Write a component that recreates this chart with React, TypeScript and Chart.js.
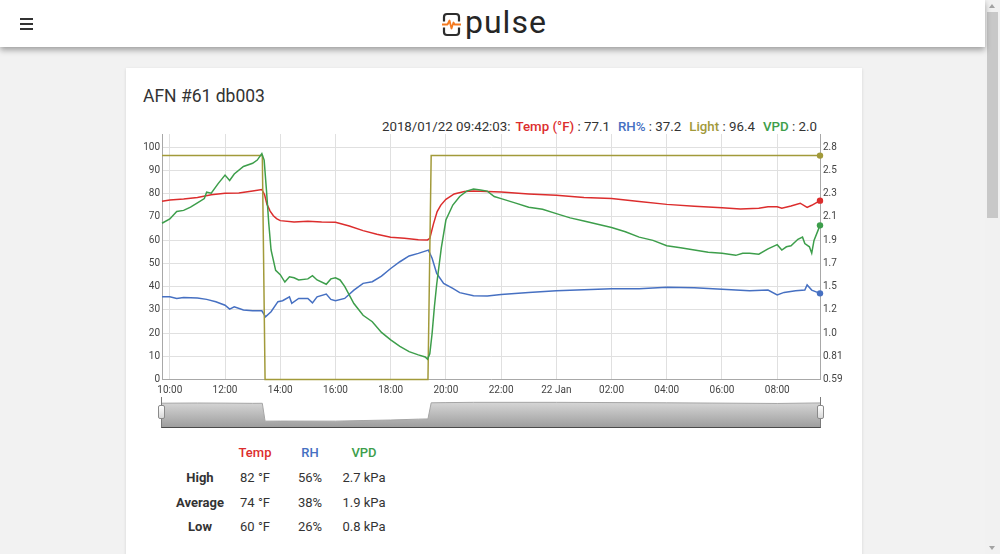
import React, { useEffect, useRef } from "react";
import { Chart, registerables } from "chart.js";

Chart.register(...registerables);

// ---------- data ----------
const tempTimes = ["09:43","10:00","10:30","11:00","11:30","12:00","12:30","13:00","13:20","13:26","13:31","13:38","13:45","13:52","14:00","14:30","15:00","15:30","16:00","16:30","17:00","17:30","18:00","18:30","19:00","19:20","19:25","19:33","19:41","19:49","20:00","20:18","20:40","21:00","21:30","22:00","23:00","00:00","01:00","02:00","03:00","04:00","05:00","06:00","06:40","07:20","07:40","08:00","08:10","08:30","08:50","09:05","09:15","09:33"];
const tempValues = [76.7,77.3,77.7,78.4,79.5,80.2,80.3,81.2,81.8,79.5,75.5,72.5,70.5,69.3,68.4,67.8,68.1,67.8,67.7,66.1,64.1,62.5,61.2,60.8,60.2,60.1,60.8,67.0,72.3,75.1,77.6,79.9,80.9,81.2,80.9,80.7,79.9,79.3,78.4,77.9,76.6,75.4,74.6,73.9,73.4,73.7,74.4,74.4,73.7,74.7,75.9,74.1,75.0,77.0];

const rhTimes = ["09:43","10:00","10:15","10:30","11:00","11:20","11:40","12:00","12:10","12:20","12:40","13:00","13:20","13:28","13:40","13:55","14:05","14:20","14:25","14:40","15:00","15:10","15:20","15:40","15:50","16:00","16:20","16:40","17:00","17:20","17:40","18:00","18:20","18:40","19:00","19:22","19:30","19:40","19:55","20:15","20:30","21:00","21:30","22:00","23:00","00:00","01:00","02:00","03:00","04:00","05:00","06:00","07:00","07:40","08:00","08:15","08:40","09:00","09:05","09:15","09:33"];
const rhValues = [35.6,35.6,34.9,35.3,35.1,34.5,33.5,32.0,30.3,31.3,29.9,29.6,29.6,27.0,29.2,33.5,33.9,35.6,32.8,34.9,34.9,33.0,35.6,36.8,34.5,33.9,34.9,38.5,41.4,42.1,44.5,47.8,50.7,53.2,54.3,55.7,52.2,45.7,41.4,39.2,37.4,36.1,35.9,36.6,37.5,38.2,38.6,39.1,39.1,39.7,39.5,38.9,38.2,38.5,36.4,37.5,38.2,38.5,40.7,38.5,37.1];

const lightTimes = ["09:43","13:21","13:27","19:21","19:28","09:33"];
const lightValues = [96.4,96.4,0,0,96.4,96.4];

const vpdTimes = ["09:43","10:00","10:15","10:30","10:45","11:00","11:15","11:20","11:30","11:45","12:00","12:10","12:20","12:40","13:00","13:10","13:20","13:25","13:30","13:35","13:40","13:50","14:00","14:10","14:20","14:30","14:40","15:00","15:10","15:20","15:40","15:50","16:00","16:10","16:20","16:40","17:00","17:20","17:40","18:00","18:20","18:40","19:00","19:15","19:20","19:25","19:30","19:35","19:40","19:50","20:00","20:15","20:30","20:45","21:00","21:15","21:30","21:45","22:00","22:30","23:00","23:30","00:00","00:30","01:00","01:30","02:00","02:30","03:00","03:30","04:00","04:30","05:00","05:30","06:00","06:30","06:45","07:00","07:20","07:40","08:00","08:10","08:20","08:30","08:45","08:55","09:00","09:10","09:15","09:20","09:33"];
const vpdValues = [2.05,2.09,2.16,2.17,2.20,2.24,2.28,2.34,2.33,2.42,2.50,2.45,2.51,2.58,2.61,2.64,2.70,2.64,2.36,2.05,1.80,1.61,1.57,1.50,1.55,1.54,1.52,1.53,1.56,1.52,1.48,1.53,1.54,1.52,1.46,1.30,1.19,1.13,1.03,0.96,0.90,0.85,0.82,0.80,0.78,0.83,1.02,1.27,1.48,1.82,2.08,2.22,2.30,2.35,2.37,2.36,2.35,2.30,2.28,2.24,2.20,2.18,2.14,2.10,2.07,2.04,2.01,1.97,1.92,1.89,1.84,1.82,1.80,1.78,1.77,1.75,1.77,1.77,1.76,1.81,1.85,1.80,1.83,1.84,1.90,1.92,1.86,1.83,1.77,1.89,2.03];

// range-selector mini plot (combined series as drawn in the navigator)
const navTimes = ["09:43","11:00","12:00","13:00","13:21","13:27","14:00","16:00","17:00","18:00","19:00","19:21","19:28","20:00","21:00","00:00","04:00","08:00","09:33"];
const navValues = [52.7,53.0,52.8,52.5,52.6,25.8,25.9,25.8,26.7,27.5,28.8,29.1,53.3,53.6,54.0,54.0,53.3,52.3,53.1];

const xTickHours = [10,12,14,16,18,20,22,24,26,28,30,32];
const xTickLabels = ["10:00","12:00","14:00","16:00","18:00","20:00","22:00","22 Jan","02:00","04:00","06:00","08:00"];
const leftTicks = [0,10,20,30,40,50,60,70,80,90,100];
const rightTickLabels = ["0.59","0.81","1.0","1.2","1.5","1.7","1.9","2.1","2.3","2.5","2.8"];

const statsColumns = ["Temp","RH","VPD"];
const statsRows = ["High","Average","Low"];
const statsValues = [
  ["82 °F","56%","2.7 kPa"],
  ["74 °F","38%","1.9 kPa"],
  ["60 °F","26%","0.8 kPa"],
];

const legendStamp = "2018/01/22 09:42:03:";
const legendNames = ["Temp (°F)","RH%","Light","VPD"];
const legendValues = ["77.1","37.2","96.4","2.0"];

// ---------- axis config ----------
const X_MIN = 9 + 43 / 60;
const X_MAX = 33 + 33 / 60;
const LEFT_MAX = 105.7;
const RIGHT_MIN = 0.59;
const RIGHT_STEP = 0.217;
const RIGHT_MAX = RIGHT_MIN + (RIGHT_STEP * LEFT_MAX) / 10;

const FONT = "Roboto, 'Open Sans', sans-serif";
const C_TEMP = "#dc2d2d";
const C_RH = "#4670c2";
const C_LIGHT = "#a29a3a";
const C_VPD = "#3d9e4b";
const seriesColors = [C_TEMP, C_RH, C_LIGHT, C_VPD];

function toHours(times: string[]): number[] {
  const out: number[] = [];
  let offset = 0;
  let prev = -Infinity;
  for (const t of times) {
    const [h, m] = t.split(":").map(Number);
    let v = h + m / 60 + offset;
    if (v < prev) {
      offset += 24;
      v += 24;
    }
    out.push(v);
    prev = v;
  }
  return out;
}

function pts(times: string[], values: number[]) {
  const hs = toHours(times);
  return hs.map((x, i) => ({ x, y: values[i] }));
}

function lineDataset(label: string, times: string[], values: number[], color: string, axis: string, order: number) {
  const n = values.length;
  return {
    label,
    data: pts(times, values),
    borderColor: color,
    backgroundColor: color,
    borderWidth: 1.5,
    tension: 0,
    yAxisID: axis,
    order,
    clip: 5,
    pointRadius: (c: any) => (c.dataIndex === n - 1 ? 3.2 : 0),
    pointBorderWidth: 0,
    pointBackgroundColor: color,
  };
}

function MainChart() {
  const ref = useRef<HTMLCanvasElement>(null);
  useEffect(() => {
    const chart = new Chart(ref.current as HTMLCanvasElement, {
      type: "line",
      data: {
        datasets: [
          lineDataset("Temp", tempTimes, tempValues, C_TEMP, "y", 4),
          lineDataset("RH", rhTimes, rhValues, C_RH, "y", 3),
          lineDataset("Light", lightTimes, lightValues, C_LIGHT, "y", 2),
          lineDataset("VPD", vpdTimes, vpdValues, C_VPD, "y2", 1),
        ] as any,
      },
      options: {
        animation: false,
        responsive: false,
        devicePixelRatio: 1,
        layout: { padding: { top: 4, left: 0, right: 0, bottom: 0 } },
        plugins: { legend: { display: false }, tooltip: { enabled: false } },
        scales: {
          x: {
            type: "linear",
            min: X_MIN,
            max: X_MAX,
            afterBuildTicks: (s: any) => {
              s.ticks = xTickHours.map((v) => ({ value: v }));
            },
            afterFit: (s: any) => {
              s.height = 20.5;
              s.paddingLeft = 0;
              s.paddingRight = 0;
            },
            ticks: {
              callback: (_v: any, i: number) => xTickLabels[i],
              font: { size: 10, family: FONT },
              color: "#444",
              padding: 4.5,
              maxRotation: 0,
              autoSkip: false,
            },
            grid: { color: "#e0e0e0", drawTicks: false },
            border: { color: "#a8a8a8" },
          },
          y: {
            position: "left",
            min: 0,
            max: LEFT_MAX,
            afterBuildTicks: (s: any) => {
              s.ticks = leftTicks.map((v) => ({ value: v }));
            },
            afterFit: (s: any) => {
              s.width = 32;
              s.paddingTop = 0;
              s.paddingBottom = 0;
            },
            ticks: {
              callback: (v: any) => String(v),
              font: { size: 10, family: FONT },
              color: "#444",
              padding: 2,
            },
            grid: { color: "#e0e0e0", drawTicks: false },
            border: { color: "#a8a8a8" },
          },
          y2: {
            position: "right",
            min: RIGHT_MIN,
            max: RIGHT_MAX,
            afterBuildTicks: (s: any) => {
              s.ticks = rightTickLabels.map((_l, i) => ({ value: RIGHT_MIN + i * RIGHT_STEP }));
            },
            afterFit: (s: any) => {
              s.width = 40;
              s.paddingTop = 0;
              s.paddingBottom = 0;
            },
            ticks: {
              callback: (_v: any, i: number) => rightTickLabels[i],
              font: { size: 10, family: FONT },
              color: "#444",
              padding: 3,
            },
            grid: { drawOnChartArea: false, drawTicks: false },
            border: { color: "#a8a8a8" },
          },
        },
      } as any,
    });
    return () => chart.destroy();
  }, []);
  return (
    <canvas
      ref={ref}
      width={730}
      height={270}
      style={{ position: "absolute", left: 130, top: 130, width: 730, height: 270 }}
    />
  );
}

function Navigator() {
  const ref = useRef<HTMLCanvasElement>(null);
  useEffect(() => {
    const chart = new Chart(ref.current as HTMLCanvasElement, {
      type: "line",
      data: {
        datasets: [
          {
            data: pts(navTimes, navValues),
            borderColor: "#a5a5a5",
            borderWidth: 1,
            pointRadius: 0,
            tension: 0,
            fill: "start",
            backgroundColor: (c: any) => {
              const area = c.chart.chartArea;
              if (!area) return "#c0c0c0";
              const g = c.chart.ctx.createLinearGradient(0, area.top, 0, area.bottom);
              g.addColorStop(0, "#e4e4e4");
              g.addColorStop(1, "#9c9c9c");
              return g;
            },
          },
        ] as any,
      },
      options: {
        animation: false,
        responsive: false,
        devicePixelRatio: 1,
        layout: { padding: 0 },
        plugins: { legend: { display: false }, tooltip: { enabled: false } },
        scales: {
          x: { type: "linear", min: X_MIN, max: X_MAX, display: false },
          y: { min: 15.5, max: 63.5, display: false },
        },
      } as any,
    });
    return () => chart.destroy();
  }, []);
  return (
    <canvas
      ref={ref}
      width={658}
      height={32}
      style={{ position: "absolute", left: 162, top: 396, width: 658, height: 32 }}
    />
  );
}

function Handle({ left }: { left: number }) {
  return (
    <div
      style={{
        position: "absolute",
        left,
        top: 405,
        width: 7,
        height: 14,
        boxSizing: "border-box",
        border: "1px solid #8a8a8a",
        borderRadius: 2,
        background: "linear-gradient(#ffffff, #d8d8d8)",
      }}
    />
  );
}

export default function App() {
  const abs = (x: number, y: number, extra: any = {}) => ({ position: "absolute" as const, left: x, top: y, ...extra });
  const colCenters = [255, 310, 364];
  const rowCenters = [478, 503, 527];
  const headerColors = [C_TEMP, C_RH, C_VPD];
  return (
    <div
      style={{
        position: "absolute",
        left: 0,
        top: 0,
        width: 1000,
        height: 554,
        overflow: "hidden",
        background: "#f2f2f2",
        fontFamily: FONT,
        color: "#333",
      }}
    >
      {/* card */}
      <div
        style={abs(126, 68, {
          width: 736,
          height: 560,
          background: "#fff",
          boxShadow: "0 1px 3px rgba(0,0,0,0.12)",
        })}
      />

      {/* header */}
      <div
        style={abs(0, 0, {
          width: 985,
          height: 47,
          background: "#fff",
          boxShadow: "0 3px 6px rgba(0,0,0,0.35)",
          zIndex: 2,
        })}
      >
        {[18, 23, 28].map((y) => (
          <div key={y} style={abs(20, y, { width: 13, height: 2, background: "#333" })} />
        ))}
        <svg style={abs(442, 12)} width={19} height={25} viewBox="0 0 19 25">
          <path d="M2 9.5 V5 a3 3 0 0 1 3 -3 H14 a3 3 0 0 1 3 3 V9.5" stroke="#2d2d2d" strokeWidth={2.2} fill="none" />
          <path d="M2 15.5 V20 a3 3 0 0 0 3 3 H14 a3 3 0 0 0 3 -3 V15.5" stroke="#2d2d2d" strokeWidth={2.2} fill="none" />
          <path d="M0 12.5 H5.5 L7.5 8.5 L9.5 16.5 L11.5 10.5 L12.5 12.5 H19" stroke="#f47a20" strokeWidth={1.8} fill="none" strokeLinejoin="round" />
        </svg>
        <div
          style={abs(465, 6, {
            fontSize: 32,
            lineHeight: "32px",
            letterSpacing: 1,
            color: "#262626",
            fontWeight: 400,
          })}
        >
          pulse
        </div>
      </div>

      {/* title */}
      <div style={abs(143, 86, { fontSize: 17.5, lineHeight: "20px", color: "#333" })}>AFN #61 db003</div>

      {/* legend */}
      <div
        style={abs(300, 119, {
          width: 517,
          textAlign: "right",
          fontSize: 13.3,
          lineHeight: "16px",
          color: "#333",
          whiteSpace: "nowrap",
        })}
      >
        <span>{legendStamp}</span>
        {legendNames.map((name, i) => (
          <span key={name} style={{ marginLeft: i === 0 ? 5 : 8 }}>
            <span style={{ color: seriesColors[i], fontWeight: 500 }}>{name}</span>
            <span> : {legendValues[i]}</span>
          </span>
        ))}
      </div>

      <MainChart />

      {/* range selector */}
      <Navigator />
      <div
        style={abs(161, 397, {
          width: 660,
          height: 31,
          boxSizing: "border-box",
          borderLeft: "1px solid #7a7a7a",
          borderRight: "1px solid #7a7a7a",
          borderBottom: "1px solid #4a4a4a",
        })}
      />
      <Handle left={158} />
      <Handle left={817} />

      {/* stats table */}
      {statsColumns.map((c, i) => (
        <div
          key={c}
          style={abs(colCenters[i] - 50, 445, {
            width: 100,
            textAlign: "center",
            fontSize: 13,
            lineHeight: "16px",
            fontWeight: 500,
            color: headerColors[i],
          })}
        >
          {c}
        </div>
      ))}
      {statsRows.map((r, ri) => (
        <React.Fragment key={r}>
          <div
            style={abs(150, rowCenters[ri] - 8, {
              width: 100,
              textAlign: "center",
              fontSize: 13,
              lineHeight: "16px",
              fontWeight: 700,
              color: "#333",
            })}
          >
            {r}
          </div>
          {statsValues[ri].map((v, ci) => (
            <div
              key={ci}
              style={abs(colCenters[ci] - 50, rowCenters[ri] - 8, {
                width: 100,
                textAlign: "center",
                fontSize: 13,
                lineHeight: "16px",
                color: "#333",
              })}
            >
              {v}
            </div>
          ))}
        </React.Fragment>
      ))}

      {/* scrollbar */}
      <div style={abs(985, 0, { width: 15, height: 554, background: "#f1f1f1" })} />
      <div style={abs(987, 12, { width: 11, height: 206, background: "#c8c8c8" })} />
      <div
        style={abs(989, 4, {
          width: 0,
          height: 0,
          borderLeft: "3.5px solid transparent",
          borderRight: "3.5px solid transparent",
          borderBottom: "4px solid #a3a3a3",
        })}
      />
      <div
        style={abs(989, 546, {
          width: 0,
          height: 0,
          borderLeft: "3.5px solid transparent",
          borderRight: "3.5px solid transparent",
          borderTop: "4px solid #a3a3a3",
        })}
      />
    </div>
  );
}
